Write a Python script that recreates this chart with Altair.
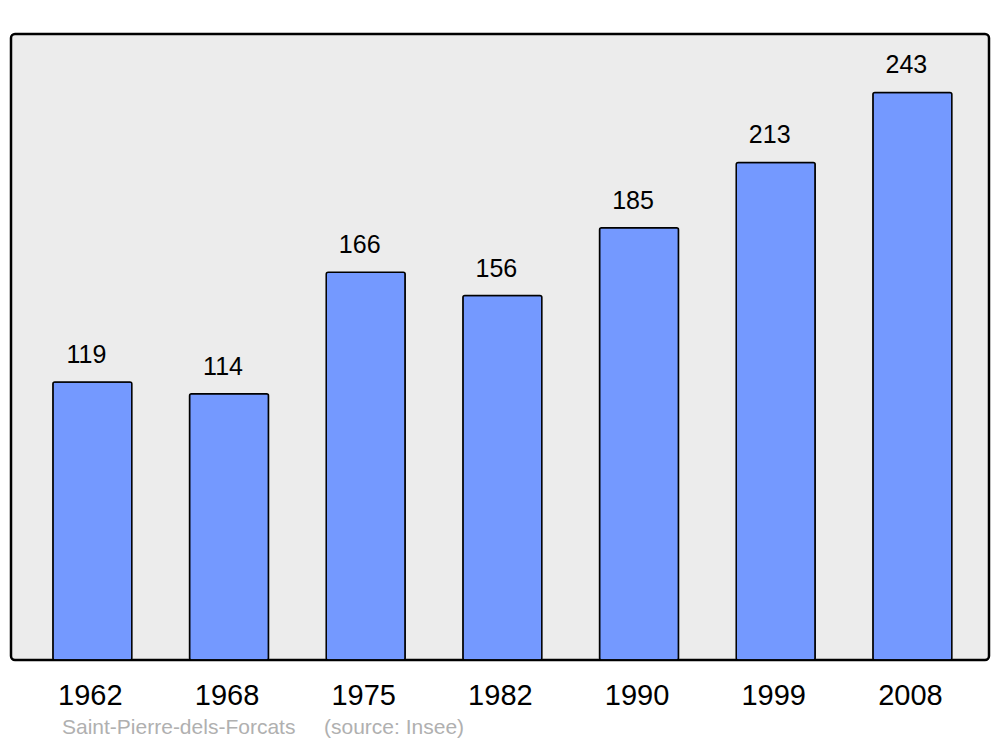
import altair as alt
import pandas as pd

years = ["1962", "1968", "1975", "1982", "1990", "1999", "2008"]
population = [119, 114, 166, 156, 185, 213, 243]
commune = "Saint-Pierre-dels-Forcats"
source = "(source: Insee)"

df = pd.DataFrame({"year": years, "pop": population})

W, H = 978, 626
FONT = "Liberation Sans"

x = alt.X("year:N", sort=years,
          scale=alt.Scale(paddingInner=0.422, paddingOuter=0.289, align=0.53),
          axis=alt.Axis(title=None, ticks=False, domain=False, labelAngle=0,
                        labelFontSize=29, labelFont=FONT, labelColor="black",
                        labelBaseline="middle", labelPadding=35, labelOffset=-2))
y = alt.Y("pop:Q", scale=alt.Scale(domain=[0, 268], nice=False), axis=None)

bars = alt.Chart(df).mark_bar(
    fill="#7499ff", stroke="black", strokeWidth=1.5, cornerRadius=2
).encode(x=x, y=y)

labels = alt.Chart(df).mark_text(
    font=FONT, fontSize=25, color="black", baseline="middle", dy=-27, dx=-6
).encode(x=x, y=y, text="pop:Q")

foot = pd.DataFrame({"t": [commune, source], "px": [51, 313]})
footer = alt.Chart(foot).mark_text(
    font=FONT, fontSize=21, color="#b0b0b0", align="left", baseline="middle"
).encode(x=alt.X("px:Q", scale=None), y=alt.value(H + 68), text="t:N")

chart = alt.layer(bars, labels, footer).properties(
    width=W, height=H,
    autosize=alt.AutoSizeParams(type="none"),
    padding={"left": 3, "top": 26, "right": 3, "bottom": 79},
).configure_view(
    fill="#ececec", stroke="black", strokeWidth=2.5, cornerRadius=4
).configure_axis(grid=False)

chart.save("out.html", embed_options={"renderer": "svg", "actions": False})
